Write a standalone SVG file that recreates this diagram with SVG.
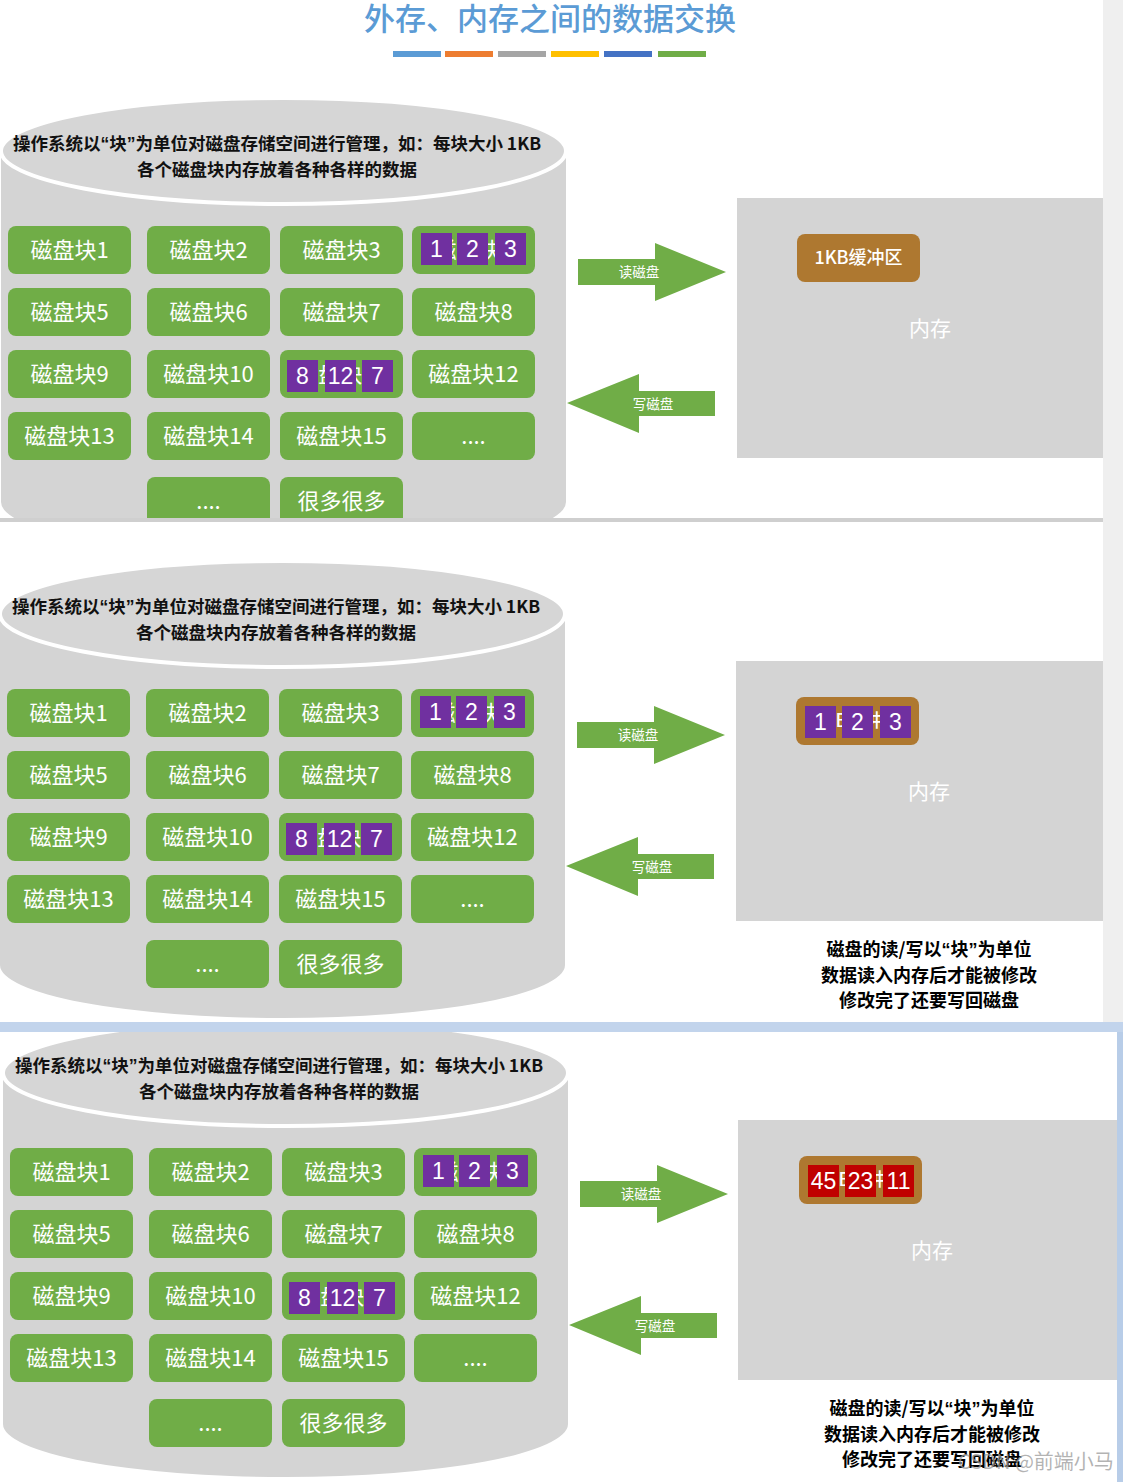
<svg xmlns="http://www.w3.org/2000/svg" width="1123" height="1482" viewBox="0 0 1123 1482">
<style>
.blk{fill:#70AD47}
.bt{fill:#fff;font-family:"Noto Sans CJK SC","Noto Sans",sans-serif;font-size:22px;text-anchor:middle}
.sqp{fill:#7030A0}
.sqr{fill:#C00000}
.nt{fill:#fff;font-family:"Liberation Sans","Noto Sans CJK SC",sans-serif;font-size:23px;text-anchor:middle}
.cyl{fill:#D4D4D4}
.cyltop{fill:#D6D6D6;stroke:#fff;stroke-width:4}
.hdr{fill:#111;font-family:"Noto Sans CJK SC",sans-serif;font-size:17.5px;font-weight:bold;text-anchor:middle}
.q{font-family:"Liberation Sans",sans-serif}
.arr{fill:#70AD47}
.at{fill:#fff;font-family:"Noto Sans CJK SC",sans-serif;font-size:13.5px;text-anchor:middle}
.mem{fill:#D4D4D4}
.mt{fill:#fff;font-family:"Noto Sans CJK SC",sans-serif;font-size:21px;text-anchor:middle}
.buf{fill:#AE7830}
.bft{fill:#fff;font-family:"Noto Sans CJK SC",sans-serif;font-size:18px;font-weight:500;text-anchor:middle}
.note{fill:#000;font-family:"Noto Sans CJK SC",sans-serif;font-size:18px;font-weight:bold;text-anchor:middle}
</style>
<defs>
<clipPath id="clip1"><rect x="0" y="0" width="1103" height="518"/></clipPath>
<clipPath id="clip2"><rect x="0" y="522" width="1103" height="500"/></clipPath>
<clipPath id="clip3"><rect x="0" y="1032" width="1117" height="450"/></clipPath>
</defs>

<g id="background">
<rect x="0" y="0" width="1123" height="1482" fill="#fff"/>
<rect x="1103" y="0" width="20" height="1032" fill="#EFEFEF"/>
<rect x="0" y="518" width="1103" height="4" fill="#CFCFCF"/>
<rect x="0" y="1022" width="1123" height="10" fill="#C2D4EC"/>
<rect x="1117" y="1032" width="6" height="450" fill="#B8CDE8"/>
</g>

<g id="title">
<text x="550" y="30" fill="#5B9BD5" font-family="Noto Sans CJK SC, sans-serif" font-size="31" font-weight="500" text-anchor="middle">外存、内存之间的数据交换</text>
<rect x="393" y="51" width="48" height="6" fill="#5B9BD5"/>
<rect x="445" y="51" width="48" height="6" fill="#ED7D31"/>
<rect x="498" y="51" width="48" height="6" fill="#A5A5A5"/>
<rect x="551" y="51" width="48" height="6" fill="#FFC000"/>
<rect x="604" y="51" width="48" height="6" fill="#4472C4"/>
<rect x="658" y="51" width="48" height="6" fill="#70AD47"/>
</g>

<!-- PANEL 1 -->
<g id="panel1" clip-path="url(#clip1)">
<g id="p1-disk">
<path class="cyl" d="M1,151 L1,502 A282.5,53 0 0 0 566,502 L566,151 Z"/>
<ellipse class="cyltop" cx="283.5" cy="151" rx="282.5" ry="53"/>
<text class="hdr" x="277" y="150">操作系统以<tspan class="q">“</tspan>块<tspan class="q">”</tspan>为单位对磁盘存储空间进行管理，如：每块大小 1KB</text>
<text class="hdr" x="277" y="176">各个磁盘块内存放着各种各样的数据</text>
</g>
<g id="p1-b1"><rect class="blk" x="8" y="226" width="123" height="48" rx="8"/><text class="bt" x="69.5" y="258">磁盘块1</text></g>
<g id="p1-b2"><rect class="blk" x="147" y="226" width="123" height="48" rx="8"/><text class="bt" x="208.5" y="258">磁盘块2</text></g>
<g id="p1-b3"><rect class="blk" x="280" y="226" width="123" height="48" rx="8"/><text class="bt" x="341.5" y="258">磁盘块3</text></g>
<g id="p1-b4"><rect class="blk" x="412" y="226" width="123" height="48" rx="8"/><text class="bt" x="473.5" y="258">磁盘块4</text>
<rect class="sqp" x="421" y="233" width="31" height="32"/><text class="nt" x="436.5" y="257">1</text>
<rect class="sqp" x="457" y="233" width="31" height="32"/><text class="nt" x="472.5" y="257">2</text>
<rect class="sqp" x="495" y="233" width="31" height="32"/><text class="nt" x="510.5" y="257">3</text></g>
<g id="p1-b5"><rect class="blk" x="8" y="288" width="123" height="48" rx="8"/><text class="bt" x="69.5" y="320">磁盘块5</text></g>
<g id="p1-b6"><rect class="blk" x="147" y="288" width="123" height="48" rx="8"/><text class="bt" x="208.5" y="320">磁盘块6</text></g>
<g id="p1-b7"><rect class="blk" x="280" y="288" width="123" height="48" rx="8"/><text class="bt" x="341.5" y="320">磁盘块7</text></g>
<g id="p1-b8"><rect class="blk" x="412" y="288" width="123" height="48" rx="8"/><text class="bt" x="473.5" y="320">磁盘块8</text></g>
<g id="p1-b9"><rect class="blk" x="8" y="350" width="123" height="48" rx="8"/><text class="bt" x="69.5" y="382">磁盘块9</text></g>
<g id="p1-b10"><rect class="blk" x="147" y="350" width="123" height="48" rx="8"/><text class="bt" x="208.5" y="382">磁盘块10</text></g>
<g id="p1-b11"><rect class="blk" x="280" y="350" width="123" height="48" rx="8"/><text class="bt" x="341.5" y="382">磁盘块11</text>
<rect class="sqp" x="287" y="360" width="31" height="32"/><text class="nt" x="302.5" y="384">8</text>
<rect class="sqp" x="325" y="360" width="31" height="32"/><text class="nt" x="340.5" y="384">12</text>
<rect class="sqp" x="362" y="360" width="31" height="32"/><text class="nt" x="377.5" y="384">7</text></g>
<g id="p1-b12"><rect class="blk" x="412" y="350" width="123" height="48" rx="8"/><text class="bt" x="473.5" y="382">磁盘块12</text></g>
<g id="p1-b13"><rect class="blk" x="8" y="412" width="123" height="48" rx="8"/><text class="bt" x="69.5" y="444">磁盘块13</text></g>
<g id="p1-b14"><rect class="blk" x="147" y="412" width="123" height="48" rx="8"/><text class="bt" x="208.5" y="444">磁盘块14</text></g>
<g id="p1-b15"><rect class="blk" x="280" y="412" width="123" height="48" rx="8"/><text class="bt" x="341.5" y="444">磁盘块15</text></g>
<g id="p1-b16"><rect class="blk" x="412" y="412" width="123" height="48" rx="8"/><text class="bt" x="473.5" y="444">....</text></g>
<g id="p1-b17"><rect class="blk" x="147" y="477" width="123" height="48" rx="8"/><text class="bt" x="208.5" y="509">....</text></g>
<g id="p1-b18"><rect class="blk" x="280" y="477" width="123" height="48" rx="8"/><text class="bt" x="341.5" y="509">很多很多</text></g>
<g id="p1-memory"><rect class="mem" x="737" y="198" width="366" height="260"/><text class="mt" x="930" y="336">内存</text></g>
<g id="p1-buffer"><rect class="buf" x="797" y="234" width="123" height="48" rx="8"/><text class="bft" x="858.5" y="264">1KB缓冲区</text></g>
<g id="p1-connectors">
<g id="p1-read"><polygon class="arr" points="578,259 655,259 655,243 726,272 655,301 655,285 578,285"/><text class="at" x="639" y="277">读磁盘</text></g>
<g id="p1-write"><polygon class="arr" points="567,403 639,374 639,391 715,391 715,416 639,416 639,433"/><text class="at" x="653" y="409">写磁盘</text></g>
</g>
</g>

<!-- PANEL 2 -->
<g id="panel2" clip-path="url(#clip2)">
<g transform="translate(-1,463)">
<g id="p2-disk">
<path class="cyl" d="M1,151 L1,502 A282.5,53 0 0 0 566,502 L566,151 Z"/>
<ellipse class="cyltop" cx="283.5" cy="151" rx="282.5" ry="53"/>
<text class="hdr" x="277" y="150">操作系统以<tspan class="q">“</tspan>块<tspan class="q">”</tspan>为单位对磁盘存储空间进行管理，如：每块大小 1KB</text>
<text class="hdr" x="277" y="176">各个磁盘块内存放着各种各样的数据</text>
</g>
<g id="p2-b1"><rect class="blk" x="8" y="226" width="123" height="48" rx="8"/><text class="bt" x="69.5" y="258">磁盘块1</text></g>
<g id="p2-b2"><rect class="blk" x="147" y="226" width="123" height="48" rx="8"/><text class="bt" x="208.5" y="258">磁盘块2</text></g>
<g id="p2-b3"><rect class="blk" x="280" y="226" width="123" height="48" rx="8"/><text class="bt" x="341.5" y="258">磁盘块3</text></g>
<g id="p2-b4"><rect class="blk" x="412" y="226" width="123" height="48" rx="8"/><text class="bt" x="473.5" y="258">磁盘块4</text>
<rect class="sqp" x="421" y="233" width="31" height="32"/><text class="nt" x="436.5" y="257">1</text>
<rect class="sqp" x="457" y="233" width="31" height="32"/><text class="nt" x="472.5" y="257">2</text>
<rect class="sqp" x="495" y="233" width="31" height="32"/><text class="nt" x="510.5" y="257">3</text></g>
<g id="p2-b5"><rect class="blk" x="8" y="288" width="123" height="48" rx="8"/><text class="bt" x="69.5" y="320">磁盘块5</text></g>
<g id="p2-b6"><rect class="blk" x="147" y="288" width="123" height="48" rx="8"/><text class="bt" x="208.5" y="320">磁盘块6</text></g>
<g id="p2-b7"><rect class="blk" x="280" y="288" width="123" height="48" rx="8"/><text class="bt" x="341.5" y="320">磁盘块7</text></g>
<g id="p2-b8"><rect class="blk" x="412" y="288" width="123" height="48" rx="8"/><text class="bt" x="473.5" y="320">磁盘块8</text></g>
<g id="p2-b9"><rect class="blk" x="8" y="350" width="123" height="48" rx="8"/><text class="bt" x="69.5" y="382">磁盘块9</text></g>
<g id="p2-b10"><rect class="blk" x="147" y="350" width="123" height="48" rx="8"/><text class="bt" x="208.5" y="382">磁盘块10</text></g>
<g id="p2-b11"><rect class="blk" x="280" y="350" width="123" height="48" rx="8"/><text class="bt" x="341.5" y="382">磁盘块11</text>
<rect class="sqp" x="287" y="360" width="31" height="32"/><text class="nt" x="302.5" y="384">8</text>
<rect class="sqp" x="325" y="360" width="31" height="32"/><text class="nt" x="340.5" y="384">12</text>
<rect class="sqp" x="362" y="360" width="31" height="32"/><text class="nt" x="377.5" y="384">7</text></g>
<g id="p2-b12"><rect class="blk" x="412" y="350" width="123" height="48" rx="8"/><text class="bt" x="473.5" y="382">磁盘块12</text></g>
<g id="p2-b13"><rect class="blk" x="8" y="412" width="123" height="48" rx="8"/><text class="bt" x="69.5" y="444">磁盘块13</text></g>
<g id="p2-b14"><rect class="blk" x="147" y="412" width="123" height="48" rx="8"/><text class="bt" x="208.5" y="444">磁盘块14</text></g>
<g id="p2-b15"><rect class="blk" x="280" y="412" width="123" height="48" rx="8"/><text class="bt" x="341.5" y="444">磁盘块15</text></g>
<g id="p2-b16"><rect class="blk" x="412" y="412" width="123" height="48" rx="8"/><text class="bt" x="473.5" y="444">....</text></g>
<g id="p2-b17"><rect class="blk" x="147" y="477" width="123" height="48" rx="8"/><text class="bt" x="208.5" y="509">....</text></g>
<g id="p2-b18"><rect class="blk" x="280" y="477" width="123" height="48" rx="8"/><text class="bt" x="341.5" y="509">很多很多</text></g>
<g id="p2-memory"><rect class="mem" x="737" y="198" width="367" height="260"/><text class="mt" x="930" y="336">内存</text></g>
<g id="p2-buffer"><rect class="buf" x="797" y="234" width="123" height="48" rx="8"/><text class="bft" x="858.5" y="264">1KB缓冲区</text>
<rect class="sqp" x="806" y="243" width="31" height="32"/><text class="nt" x="821.5" y="267">1</text>
<rect class="sqp" x="843" y="243" width="31" height="32"/><text class="nt" x="858.5" y="267">2</text>
<rect class="sqp" x="881" y="243" width="31" height="32"/><text class="nt" x="896.5" y="267">3</text></g>
<g id="p2-note">
<text class="note" x="930" y="493">磁盘的读/写以<tspan class="q">“</tspan>块<tspan class="q">”</tspan>为单位</text>
<text class="note" x="930" y="519">数据读入内存后才能被修改</text>
<text class="note" x="930" y="544">修改完了还要写回磁盘</text>
</g>
<g id="p2-connectors">
<g id="p2-read"><polygon class="arr" points="578,259 655,259 655,243 726,272 655,301 655,285 578,285"/><text class="at" x="639" y="277">读磁盘</text></g>
<g id="p2-write"><polygon class="arr" points="567,403 639,374 639,391 715,391 715,416 639,416 639,433"/><text class="at" x="653" y="409">写磁盘</text></g>
</g>
</g>
</g>

<!-- PANEL 3 -->
<g id="panel3" clip-path="url(#clip3)">
<g transform="translate(2,922)">
<g id="p3-disk">
<path class="cyl" d="M1,151 L1,502 A282.5,53 0 0 0 566,502 L566,151 Z"/>
<ellipse class="cyltop" cx="283.5" cy="151" rx="282.5" ry="53"/>
<text class="hdr" x="277" y="150">操作系统以<tspan class="q">“</tspan>块<tspan class="q">”</tspan>为单位对磁盘存储空间进行管理，如：每块大小 1KB</text>
<text class="hdr" x="277" y="176">各个磁盘块内存放着各种各样的数据</text>
</g>
<g id="p3-b1"><rect class="blk" x="8" y="226" width="123" height="48" rx="8"/><text class="bt" x="69.5" y="258">磁盘块1</text></g>
<g id="p3-b2"><rect class="blk" x="147" y="226" width="123" height="48" rx="8"/><text class="bt" x="208.5" y="258">磁盘块2</text></g>
<g id="p3-b3"><rect class="blk" x="280" y="226" width="123" height="48" rx="8"/><text class="bt" x="341.5" y="258">磁盘块3</text></g>
<g id="p3-b4"><rect class="blk" x="412" y="226" width="123" height="48" rx="8"/><text class="bt" x="473.5" y="258">磁盘块4</text>
<rect class="sqp" x="421" y="233" width="31" height="32"/><text class="nt" x="436.5" y="257">1</text>
<rect class="sqp" x="457" y="233" width="31" height="32"/><text class="nt" x="472.5" y="257">2</text>
<rect class="sqp" x="495" y="233" width="31" height="32"/><text class="nt" x="510.5" y="257">3</text></g>
<g id="p3-b5"><rect class="blk" x="8" y="288" width="123" height="48" rx="8"/><text class="bt" x="69.5" y="320">磁盘块5</text></g>
<g id="p3-b6"><rect class="blk" x="147" y="288" width="123" height="48" rx="8"/><text class="bt" x="208.5" y="320">磁盘块6</text></g>
<g id="p3-b7"><rect class="blk" x="280" y="288" width="123" height="48" rx="8"/><text class="bt" x="341.5" y="320">磁盘块7</text></g>
<g id="p3-b8"><rect class="blk" x="412" y="288" width="123" height="48" rx="8"/><text class="bt" x="473.5" y="320">磁盘块8</text></g>
<g id="p3-b9"><rect class="blk" x="8" y="350" width="123" height="48" rx="8"/><text class="bt" x="69.5" y="382">磁盘块9</text></g>
<g id="p3-b10"><rect class="blk" x="147" y="350" width="123" height="48" rx="8"/><text class="bt" x="208.5" y="382">磁盘块10</text></g>
<g id="p3-b11"><rect class="blk" x="280" y="350" width="123" height="48" rx="8"/><text class="bt" x="341.5" y="382">磁盘块11</text>
<rect class="sqp" x="287" y="360" width="31" height="32"/><text class="nt" x="302.5" y="384">8</text>
<rect class="sqp" x="325" y="360" width="31" height="32"/><text class="nt" x="340.5" y="384">12</text>
<rect class="sqp" x="362" y="360" width="31" height="32"/><text class="nt" x="377.5" y="384">7</text></g>
<g id="p3-b12"><rect class="blk" x="412" y="350" width="123" height="48" rx="8"/><text class="bt" x="473.5" y="382">磁盘块12</text></g>
<g id="p3-b13"><rect class="blk" x="8" y="412" width="123" height="48" rx="8"/><text class="bt" x="69.5" y="444">磁盘块13</text></g>
<g id="p3-b14"><rect class="blk" x="147" y="412" width="123" height="48" rx="8"/><text class="bt" x="208.5" y="444">磁盘块14</text></g>
<g id="p3-b15"><rect class="blk" x="280" y="412" width="123" height="48" rx="8"/><text class="bt" x="341.5" y="444">磁盘块15</text></g>
<g id="p3-b16"><rect class="blk" x="412" y="412" width="123" height="48" rx="8"/><text class="bt" x="473.5" y="444">....</text></g>
<g id="p3-b17"><rect class="blk" x="147" y="477" width="123" height="48" rx="8"/><text class="bt" x="208.5" y="509">....</text></g>
<g id="p3-b18"><rect class="blk" x="280" y="477" width="123" height="48" rx="8"/><text class="bt" x="341.5" y="509">很多很多</text></g>
<g id="p3-memory"><rect class="mem" x="736" y="198" width="379" height="260"/><text class="mt" x="930" y="336">内存</text></g>
<g id="p3-buffer"><rect class="buf" x="797" y="234" width="123" height="48" rx="8"/><text class="bft" x="858.5" y="264">1KB缓冲区</text>
<rect class="sqr" x="806" y="243" width="31" height="32"/><text class="nt" x="821.5" y="267">45</text>
<rect class="sqr" x="843" y="243" width="31" height="32"/><text class="nt" x="858.5" y="267">23</text>
<rect class="sqr" x="881" y="243" width="31" height="32"/><text class="nt" x="896.5" y="267">11</text></g>
<g id="p3-note">
<text class="note" x="930" y="493">磁盘的读/写以<tspan class="q">“</tspan>块<tspan class="q">”</tspan>为单位</text>
<text class="note" x="930" y="519">数据读入内存后才能被修改</text>
<text class="note" x="930" y="544">修改完了还要写回磁盘</text>
</g>
<g id="p3-connectors">
<g id="p3-read"><polygon class="arr" points="578,259 655,259 655,243 726,272 655,301 655,285 578,285"/><text class="at" x="639" y="277">读磁盘</text></g>
<g id="p3-write"><polygon class="arr" points="567,403 639,374 639,391 715,391 715,416 639,416 639,433"/><text class="at" x="653" y="409">写磁盘</text></g>
</g>
</g>
</g>

<g id="watermark">
<text x="1036" y="1469" fill="#9A9A9A" fill-opacity="0.75" font-family="Noto Sans CJK SC, sans-serif" font-size="20" text-anchor="middle">CSDN @前端小马</text>
</g>
</svg>
